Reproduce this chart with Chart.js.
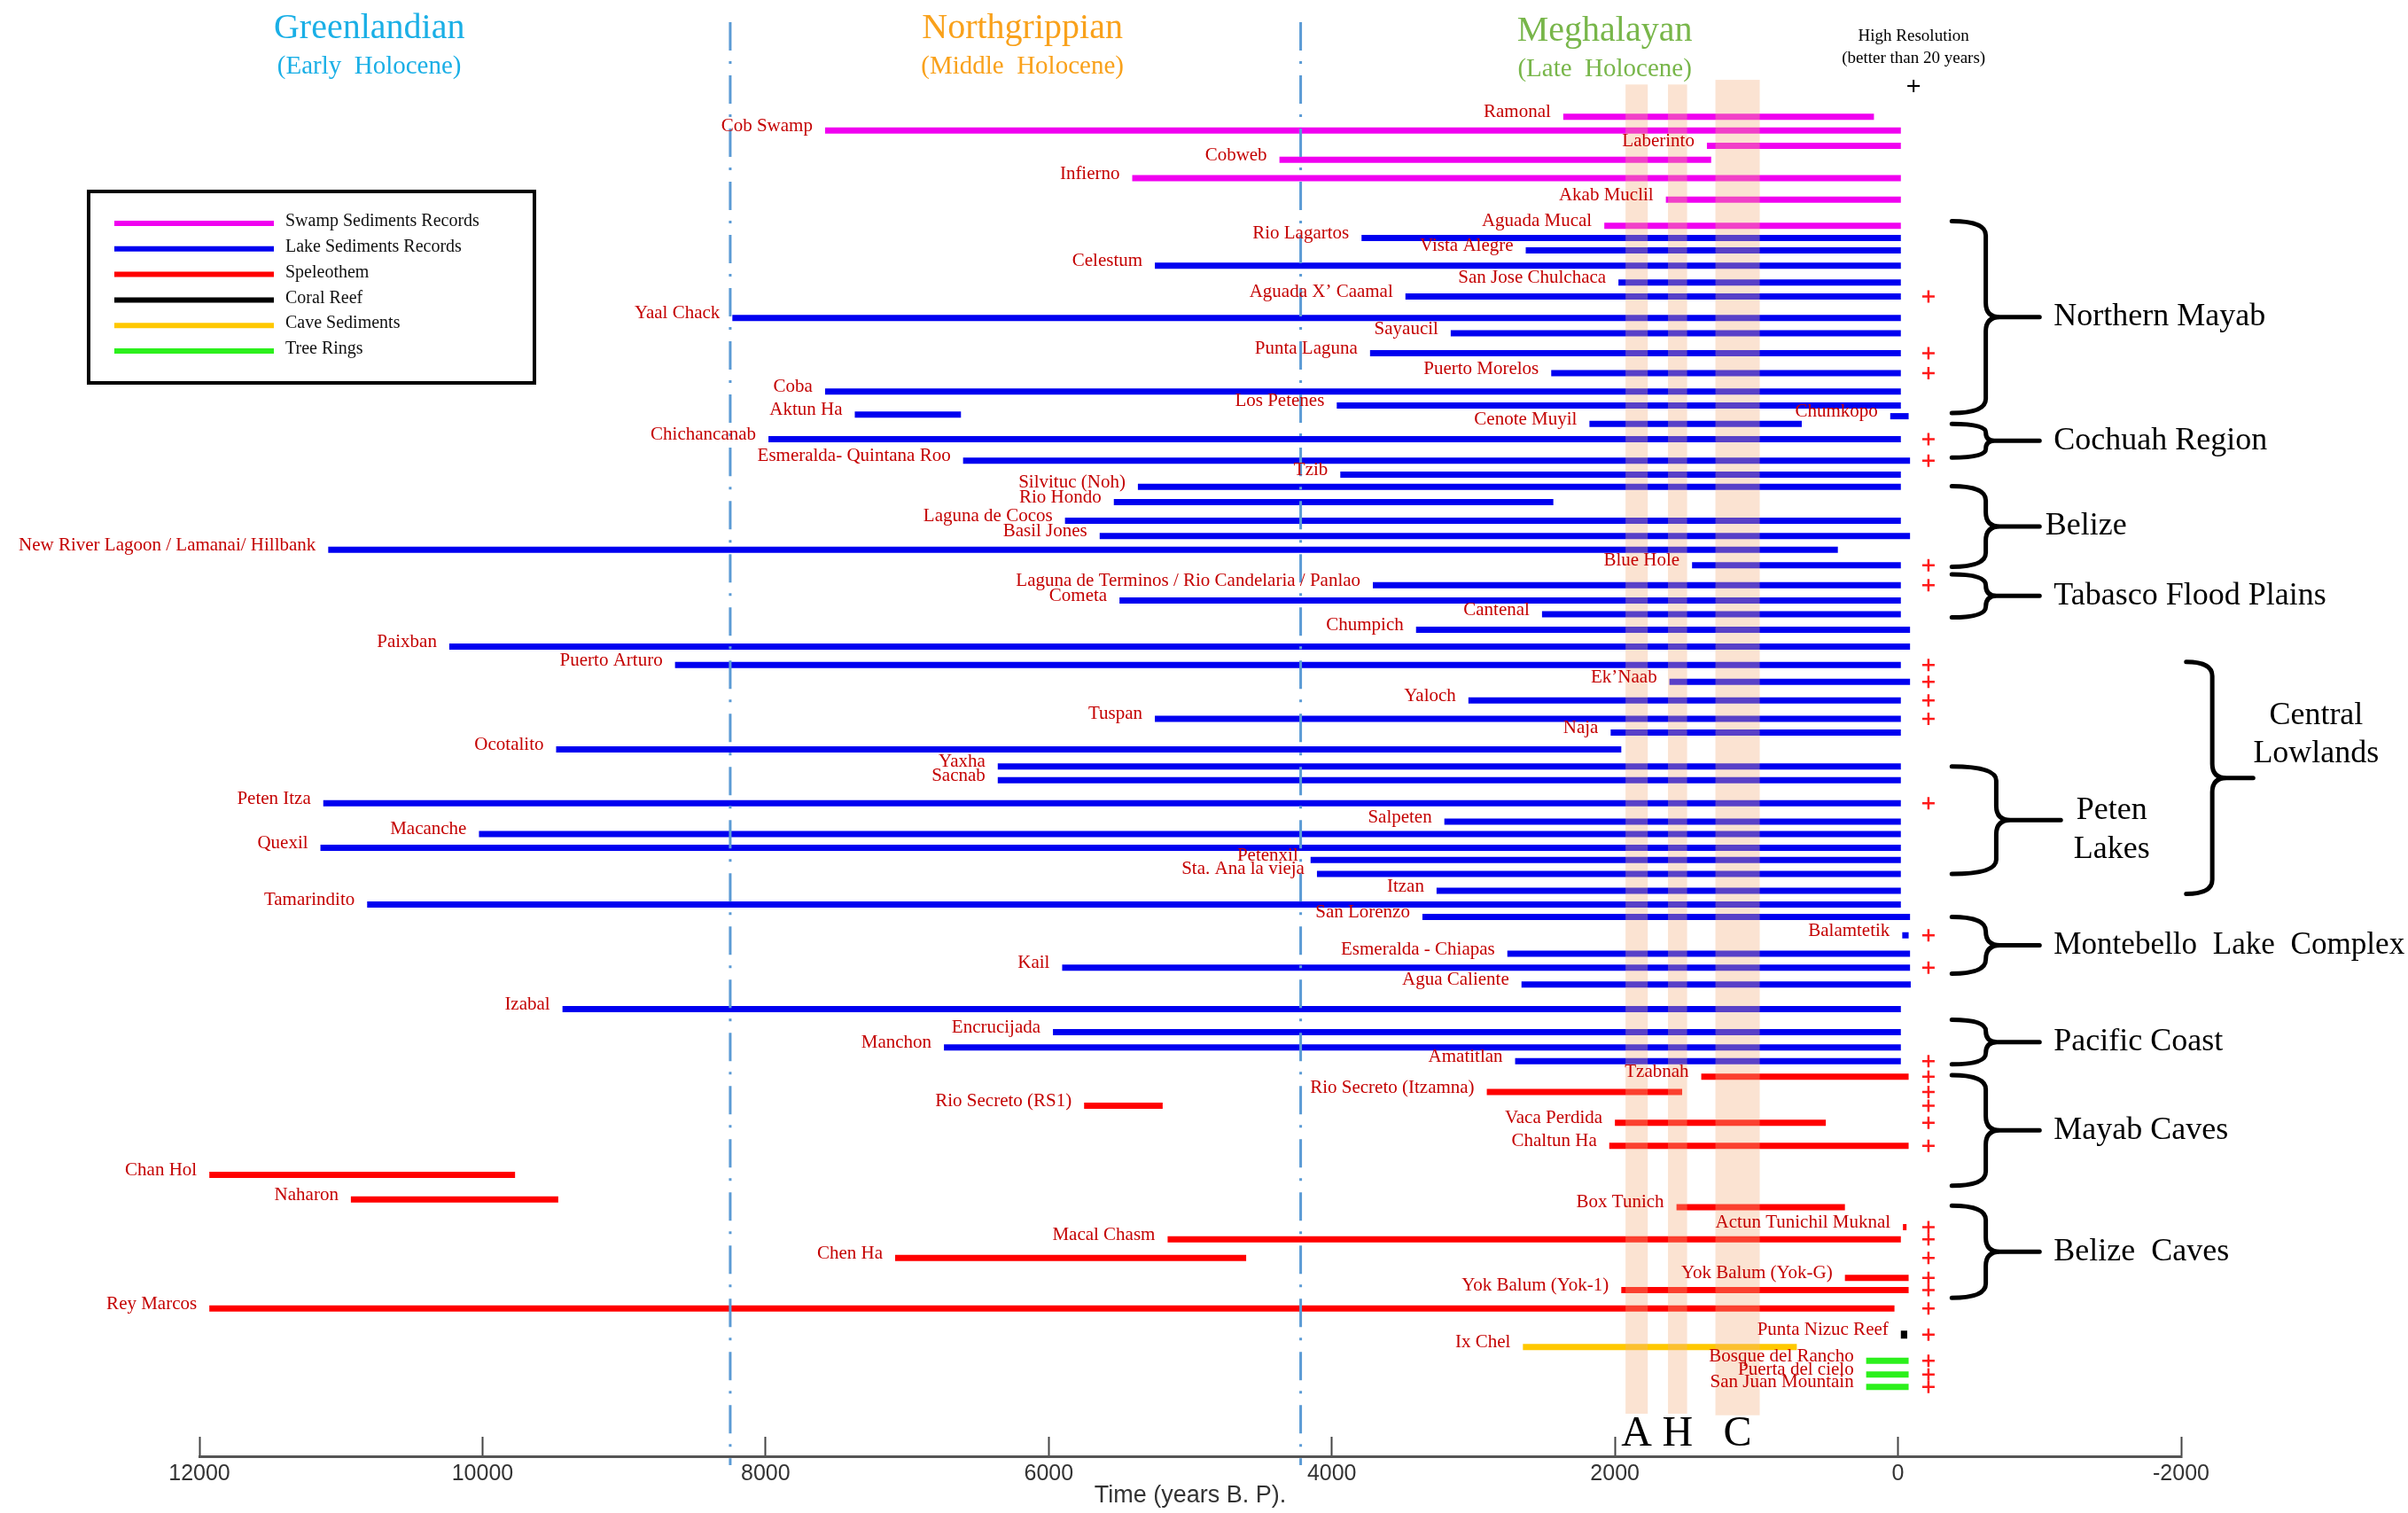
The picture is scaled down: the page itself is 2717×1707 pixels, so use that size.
<!DOCTYPE html>
<html>
<head>
<meta charset="utf-8">
<title>Holocene paleoclimate records of the Maya region</title>
<script src="https://cdn.jsdelivr.net/npm/chart.js@4.4.1/dist/chart.umd.min.js"></script>
<style>
  html, body { margin: 0; padding: 0; background: #fff; }
  #wrap { width: 2717px; height: 1707px; position: relative; }
</style>
</head>
<body>
<div id="wrap"><canvas id="recordsChart"></canvas></div>
<script>
// Records, top to bottom
const names = [
    'Ramonal', 'Cob Swamp', 'Laberinto', 'Cobweb', 'Infierno', 'Akab Muclil', 'Aguada Mucal',
    'Rio Lagartos', 'Vista Alegre', 'Celestum', 'San Jose Chulchaca', 'Aguada X\u2019 Caamal', 'Yaal Chack',
    'Sayaucil', 'Punta Laguna', 'Puerto Morelos', 'Coba', 'Los Petenes', 'Aktun Ha', 'Chumkopo',
    'Cenote Muyil', 'Chichancanab', 'Esmeralda- Quintana Roo', 'Tzib', 'Silvituc (Noh)', 'Rio Hondo',
    'Laguna de Cocos', 'Basil Jones', 'New River Lagoon / Lamanai/ Hillbank', 'Blue Hole',
    'Laguna de Terminos / Rio Candelaria / Panlao', 'Cometa', 'Cantenal', 'Chumpich', 'Paixban',
    'Puerto Arturo', 'Ek\u2019Naab', 'Yaloch', 'Tuspan', 'Naja', 'Ocotalito', 'Yaxha', 'Sacnab',
    'Peten Itza', 'Salpeten', 'Macanche', 'Quexil', 'Petenxil', 'Sta. Ana la vieja', 'Itzan',
    'Tamarindito', 'San Lorenzo', 'Balamtetik', 'Esmeralda - Chiapas', 'Kail', 'Agua Caliente',
    'Izabal', 'Encrucijada', 'Manchon', 'Amatitlan',
    'Tzabnah', 'Rio Secreto (Itzamna)', 'Rio Secreto (RS1)', 'Vaca Perdida', 'Chaltun Ha', 'Chan Hol',
    'Naharon', 'Box Tunich', 'Actun Tunichil Muknal', 'Macal Chasm', 'Chen Ha', 'Yok Balum (Yok-G)',
    'Yok Balum (Yok-1)', 'Rey Marcos',
    'Punta Nizuc Reef', 'Ix Chel', 'Bosque del Rancho', 'Puerta del cielo', 'San Juan Mountain'
];
const types = [
    'swamp', 'swamp', 'swamp', 'swamp', 'swamp', 'swamp', 'swamp',
    'lake', 'lake', 'lake', 'lake', 'lake', 'lake', 'lake', 'lake', 'lake', 'lake', 'lake', 'lake', 'lake',
    'lake', 'lake', 'lake', 'lake', 'lake', 'lake', 'lake', 'lake', 'lake', 'lake', 'lake', 'lake', 'lake',
    'lake', 'lake', 'lake', 'lake', 'lake', 'lake', 'lake', 'lake', 'lake', 'lake', 'lake', 'lake', 'lake',
    'lake', 'lake', 'lake', 'lake', 'lake', 'lake', 'lake', 'lake', 'lake', 'lake', 'lake', 'lake', 'lake', 'lake',
    'speleo', 'speleo', 'speleo', 'speleo', 'speleo', 'speleo', 'speleo', 'speleo', 'speleo', 'speleo',
    'speleo', 'speleo', 'speleo', 'speleo',
    'coral', 'cave', 'tree', 'tree', 'tree'
];
// oldest end of each record (years BP)
const startBP = [
    2365, 7580, 1350, 4370, 5410, 1640, 2075,
    3790, 2630, 5250, 1975, 3480, 8235, 3160, 3730, 2450, 7580, 3965, 7370, 55,
    2180, 7980, 6605, 3940, 5370, 5540, 5885, 5640, 11090, 1455, 3710, 5500, 2515,
    3405, 10235, 8640, 1615, 3035, 5250, 2030, 9480, 6360, 6360, 11125, 3205, 10025,
    11145, 4150, 4105, 3260, 10815, 3360, -30, 2760, 5905, 2660, 9435, 5970, 6740, 2705,
    1390, 2905, 5750, 2000, 2040, 11930, 10930, 1565, -35, 5160,
    7085, 375, 1955, 11930,
    -20, 2650, 225, 225, 225
];
// youngest end of each record (years BP)
const endBP = [
    170, -20, -20, 1320, -20, -20, -20,
    -20, -20, -20, -20, -20, -20, -20, -20, -20, -20, -20, 6620, -75,
    680, -20, -85, -20, -20, 2435, -20, -85, 425, -20, -20, -20, -20,
    -85, -85, -20, -85, -20, -20, -20, 1955, -20, -20, -20, -20, -20,
    -20, -20, -20, -20, -20, -85, -75, -85, -85, -90, -20, -20, -20, -20,
    -75, 1525, 5195, 510, -75, 9770, 9465, 375, -60, -20,
    4605, -75, -75, 25,
    -65, 715, -75, -75, -75
];
// row of each record, counted down the figure
const lane = [
    7.6, 8.5, 9.5, 10.4, 11.6, 13.0, 14.7,
    15.5, 16.3, 17.3, 18.4, 19.3, 20.7, 21.7, 23.0, 24.3, 25.5, 26.4, 27.0, 27.1,
    27.6, 28.6, 30.0, 30.9, 31.7, 32.7, 33.9, 34.9, 35.8, 36.8, 38.1, 39.1, 40.0,
    41.0, 42.1, 43.3, 44.4, 45.6, 46.8, 47.7, 48.8, 49.9, 50.8, 52.3, 53.5, 54.3,
    55.2, 56.0, 56.9, 58.0, 58.9, 59.7, 60.9, 62.1, 63.0, 64.1, 65.7, 67.2, 68.2, 69.1,
    70.1, 71.1, 72.0, 73.1, 74.6, 76.5, 78.1, 78.6, 79.9, 80.7,
    81.9, 83.2, 84.0, 85.2,
    86.9, 87.7, 88.6, 89.5, 90.3
];
// records flagged as high resolution (better than 20 years)
const highResRecords = [
    'Aguada X\u2019 Caamal', 'Punta Laguna', 'Puerto Morelos', 'Chichancanab', 'Esmeralda- Quintana Roo',
    'Blue Hole', 'Laguna de Terminos / Rio Candelaria / Panlao', 'Puerto Arturo', 'Ek\u2019Naab', 'Yaloch',
    'Tuspan', 'Peten Itza', 'Balamtetik', 'Kail', 'Amatitlan', 'Tzabnah', 'Rio Secreto (Itzamna)',
    'Rio Secreto (RS1)', 'Vaca Perdida', 'Chaltun Ha', 'Actun Tunichil Muknal', 'Macal Chasm', 'Chen Ha',
    'Yok Balum (Yok-G)', 'Yok Balum (Yok-1)', 'Rey Marcos', 'Punta Nizuc Reef', 'Bosque del Rancho',
    'Puerta del cielo', 'San Juan Mountain'
];

const typeKeys = ['swamp', 'lake', 'speleo', 'coral', 'cave', 'tree'];
const typeNames = ['Swamp Sediments Records', 'Lake Sediments Records', 'Speleothem', 'Coral Reef', 'Cave Sediments', 'Tree Rings'];
const typeColors = ['#f000f0', '#0000f0', '#ff0000', '#000000', '#ffc800', '#2cf01c'];

const xTicks = [12000, 10000, 8000, 6000, 4000, 2000, 0, -2000];
const boundaryBP = [8250, 4220];
const periodNames = ['Greenlandian', 'Northgrippian', 'Meghalayan'];
const periodSubs = ['(Early  Holocene)', '(Middle  Holocene)', '(Late  Holocene)'];
const periodColors = ['#1aafe6', '#f9a11b', '#78b64a'];

// dry events A, H, C
const eventNames = ['A', 'H', 'C'];
const eventStart = [1925, 1625, 1290];
const eventEnd = [1768, 1490, 977];

// regional groupings (rows spanned)
const regionNames = ['Northern Mayab', 'Cochuah Region', 'Belize', 'Tabasco Flood Plains', 'Central|Lowlands',
    'Peten|Lakes', 'Montebello  Lake  Complex', 'Pacific Coast', 'Mayab Caves', 'Belize  Caves'];
const regionTop = [14.4, 27.6, 31.65, 37.4, 43.1, 49.9, 59.7, 66.4, 70.0, 78.5];
const regionBottom = [26.9, 29.8, 36.9, 40.2, 58.2, 56.9, 63.4, 69.3, 77.2, 84.5];

const HR_X = -215;
const SERIF = '"Liberation Serif", "DejaVu Serif", serif';

function colorOf(i) {
    return typeColors[typeKeys.indexOf(types[i])];
}

function drawBrace(ctx, xTip, xSpine, xPoint, yTop, yBot) {
    const yMid = (yTop + yBot) / 2;
    const r = Math.min(16, (yBot - yTop) / 4);
    ctx.beginPath();
    ctx.moveTo(xTip, yTop);
    ctx.quadraticCurveTo(xSpine, yTop, xSpine, yTop + r);
    ctx.lineTo(xSpine, yMid - r);
    ctx.quadraticCurveTo(xSpine, yMid, xSpine + r, yMid);
    ctx.lineTo(xPoint, yMid);
    ctx.moveTo(xSpine + r, yMid);
    ctx.quadraticCurveTo(xSpine, yMid, xSpine, yMid + r);
    ctx.lineTo(xSpine, yBot - r);
    ctx.quadraticCurveTo(xSpine, yBot, xTip, yBot);
    ctx.stroke();
}

// Labels, shaded events, braces, titles and legend
const overlay = {
    id: 'overlay',
    afterDatasetsDraw(chart) {
        const { ctx } = chart;
        const x = chart.scales.x, y = chart.scales.y;
        ctx.save();

        // shaded event bands
        const bandTop = [5.5, 5.5, 5.2];
        const bandBottom = [92.05, 92.05, 92.15];
        ctx.fillStyle = 'rgba(244, 177, 131, 0.36)';
        eventNames.forEach((e, i) => {
            const x1 = x.getPixelForValue(eventStart[i]);
            const x2 = x.getPixelForValue(eventEnd[i]);
            const y1 = y.getPixelForValue(bandTop[i]);
            const y2 = y.getPixelForValue(bandBottom[i]);
            ctx.fillRect(x1, y1, x2 - x1, y2 - y1);
        });
        ctx.fillStyle = '#000';
        ctx.font = '48px ' + SERIF;
        ctx.textAlign = 'center';
        ctx.textBaseline = 'alphabetic';
        eventNames.forEach((e, i) => {
            const cx = (x.getPixelForValue(eventStart[i]) + x.getPixelForValue(eventEnd[i])) / 2;
            ctx.fillText(e, cx, y.getPixelForValue(94.15));
        });

        // record names
        ctx.font = '21px ' + SERIF;
        ctx.fillStyle = '#c40000';
        ctx.textAlign = 'right';
        ctx.textBaseline = 'middle';
        names.forEach((n, i) => {
            ctx.fillText(n, x.getPixelForValue(startBP[i]) - 14, y.getPixelForValue(lane[i]) - 5);
        });

        // period titles
        const periodAt = [10800, 6186, 2072];
        const titleLane = [1.85, 1.85, 2.05];
        ctx.textAlign = 'center';
        periodNames.forEach((p, i) => {
            ctx.fillStyle = periodColors[i];
            ctx.font = '40px ' + SERIF;
            ctx.fillText(p, x.getPixelForValue(periodAt[i]), y.getPixelForValue(titleLane[i]));
            ctx.font = '29px ' + SERIF;
            ctx.fillText(periodSubs[i], x.getPixelForValue(periodAt[i]), y.getPixelForValue(titleLane[i] + 2.5));
        });

        // high resolution header
        ctx.fillStyle = '#000';
        ctx.font = '19px ' + SERIF;
        ctx.fillText('High Resolution', x.getPixelForValue(-110), y.getPixelForValue(2.35));
        ctx.fillText('(better than 20 years)', x.getPixelForValue(-110), y.getPixelForValue(3.8));

        // regional braces
        ctx.strokeStyle = '#000';
        ctx.lineWidth = 5;
        ctx.lineCap = 'round';
        ctx.font = '36px ' + SERIF;
        regionNames.forEach((r, i) => {
            const yt = y.getPixelForValue(regionTop[i]);
            const yb = y.getPixelForValue(regionBottom[i]);
            let tip = -380, spine = -620, point = -1000;
            if (r === 'Peten|Lakes') { spine = -694; point = -1150; }
            if (r === 'Central|Lowlands') { tip = -2036; spine = -2220; point = -2509; }
            drawBrace(ctx, x.getPixelForValue(tip), x.getPixelForValue(spine), x.getPixelForValue(point), yt, yb);
            if (r.includes('|')) {
                const [a, b] = r.split('|');
                const cx = x.getPixelForValue(r === 'Peten|Lakes' ? -1510 : -2954);
                const l1 = r === 'Peten|Lakes' ? 52.8 : 46.6;
                ctx.textAlign = 'center';
                ctx.fillText(a, cx, y.getPixelForValue(l1));
                ctx.fillText(b, cx, y.getPixelForValue(l1 + 2.5));
            } else {
                ctx.textAlign = 'left';
                const tx = x.getPixelForValue(r === 'Belize' ? -1040 : -1100);
                ctx.fillText(r, tx, (yt + yb) / 2, 396);
            }
        });

        // legend box
        const bx = 100, by = 216, bw = 503, bh = 216;
        ctx.lineWidth = 4;
        ctx.lineCap = 'butt';
        ctx.strokeRect(bx, by, bw, bh);
        ctx.font = '20px ' + SERIF;
        ctx.textAlign = 'left';
        ctx.fillStyle = '#111';
        typeNames.forEach((t, i) => {
            const ly = by + 36 + i * 28.8;
            ctx.strokeStyle = typeColors[i];
            ctx.lineWidth = 6;
            ctx.beginPath();
            ctx.moveTo(bx + 29, ly);
            ctx.lineTo(bx + 209, ly);
            ctx.stroke();
            ctx.fillText(t, bx + 222, ly - 2);
        });

        ctx.restore();
    }
};

const datasets = [];
// Holocene stage boundaries
boundaryBP.forEach(b => {
    datasets.push({
        label: 'boundary ' + b,
        data: [{ x: b, y: 1.45 }, { x: b, y: 95.4 }],
        showLine: true,
        borderColor: '#5b9bd5',
        borderWidth: 3,
        borderDash: [32, 12, 3, 13],
        pointRadius: 0,
        clip: false,
        order: -1
    });
});
// high resolution crosses
datasets.push({
    label: 'high resolution',
    data: highResRecords.map(n => ({ x: HR_X, y: lane[names.indexOf(n)] })),
    showLine: false,
    pointStyle: 'cross',
    pointRadius: 7,
    pointBorderWidth: 2.5,
    pointBorderColor: '#ff1a1a',
    order: -2
});
datasets.push({
    label: 'high resolution key',
    data: [{ x: -110, y: 5.6 }],
    showLine: false,
    pointStyle: 'cross',
    pointRadius: 7,
    pointBorderWidth: 2,
    pointBorderColor: '#000',
    order: -2
});
// one bar per record
names.forEach((n, i) => {
    datasets.push({
        label: n,
        data: [{ x: startBP[i], y: lane[i] }, { x: endBP[i], y: lane[i] }],
        showLine: true,
        borderColor: colorOf(i),
        borderWidth: types[i] === 'coral' ? 9 : 7,
        borderCapStyle: 'butt',
        pointRadius: 0
    });
});

const ctx = document.getElementById('recordsChart').getContext('2d');
new Chart(ctx, {
    type: 'scatter',
    data: { datasets: datasets },
    options: {
        responsive: true,
        maintainAspectRatio: false,
        animation: false,
        events: [],
        layout: { autoPadding: false, padding: { left: 225, right: 256, top: 0, bottom: 0 } },
        plugins: {
            legend: { display: false },
            tooltip: { enabled: false }
        },
        scales: {
            x: {
                type: 'linear',
                reverse: true,
                min: -2000,
                max: 12000,
                afterBuildTicks: scale => { scale.ticks = xTicks.map(v => ({ value: v })); },
                afterFit: scale => { scale.height = 64; },
                grid: {
                    display: true,
                    drawOnChartArea: false,
                    drawTicks: true,
                    tickLength: -22,
                    tickColor: '#444',
                    tickWidth: 2
                },
                border: { display: true, color: '#555', width: 3 },
                ticks: {
                    padding: 27,
                    autoSkip: false,
                    maxRotation: 0,
                    color: '#333',
                    font: { family: 'Liberation Sans', size: 25 },
                    callback: v => String(v)
                },
                title: {
                    display: true,
                    text: 'Time (years B. P).',
                    color: '#333',
                    font: { family: 'Liberation Sans', size: 27 },
                    padding: { top: 0, bottom: 3 }
                }
            },
            y: { type: 'linear', display: false, reverse: true, min: 0, max: 94.82 }
        }
    },
    plugins: [overlay]
});
</script>
</body>
</html>
